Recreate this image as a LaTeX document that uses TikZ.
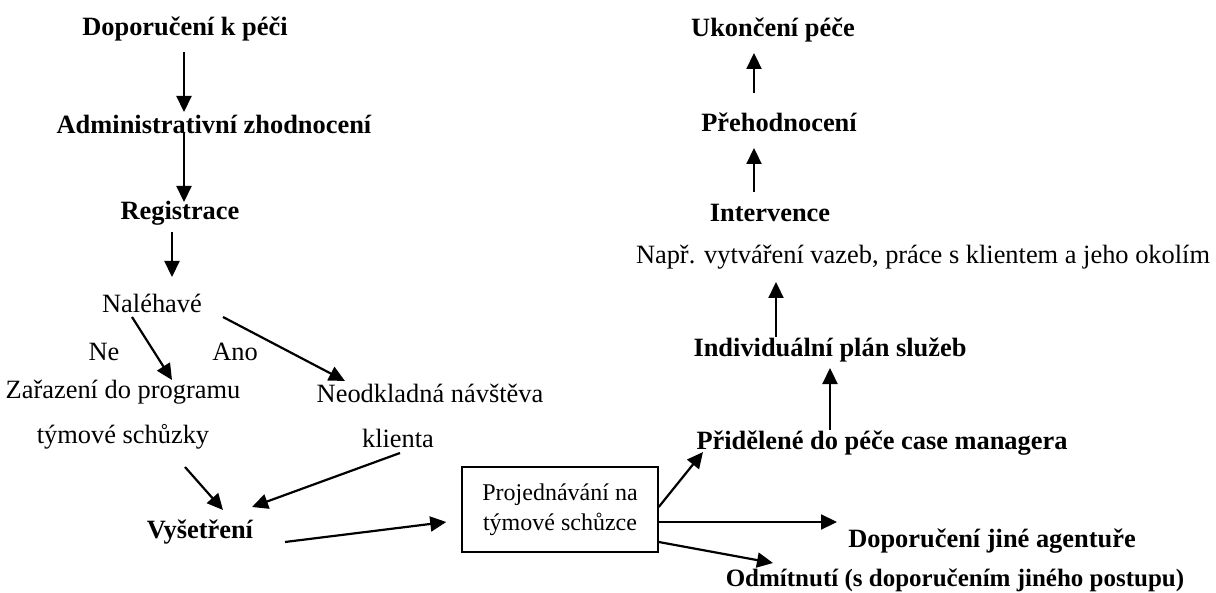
\documentclass[tikz,border=0pt]{standalone}
\usepackage{fontspec}
\setmainfont{Liberation Serif}
\usetikzlibrary{shapes}
\usetikzlibrary{arrows.meta}
\usetikzlibrary{calc,positioning}

\begin{document}
\begin{tikzpicture}[x=0.5pt, y=-0.5pt, krok/.style = {font=\fontsize{13.2}{16}\selectfont\bfseries, inner sep=0}, pozn/.style = {font=\fontsize{13.2}{22.5}\selectfont, align=center, inner sep=0}, ramec/.style = {draw, line width=0.75pt, align=center, font=\fontsize{12}{15}\selectfont, minimum width=98pt, minimum height=42.5pt}, sip/.style = {-{Triangle[length=8pt, width=7.5pt]}, line width=1.1pt}]

\useasboundingbox (0,0) rectangle (1216,593);

\node[krok](dop) at (185,29) {Doporučení k péči};
\node[krok](adm) at (214,124) {Administrativní zhodnocení};
\node[krok](reg) at (180,213) {Registrace};
\node[pozn](nal) at (152,303) {Naléhavé};
\node[pozn](ne) at (104,352) {Ne};
\node[pozn](ano) at (235,352) {Ano};
\node[pozn](zar) at (123,415) {Zařazení do programu\\týmové schůzky};
\node[pozn](neo) at (430,393) {Neodkladná návštěva};
\node[pozn](kli) at (398,438) {klienta};
\node[krok](vys) at (200,532) {Vyšetření};
\node[ramec](box) at (560,509.5) {Projednávání na\\týmové schůzce};

\node[krok](prid) at (882,443) {Přidělené do péče case managera};
\node[krok](dopj) at (992,541) {Doporučení jiné agentuře};
\node[krok, font=\fontsize{12.5}{15}\selectfont\bfseries](odm) at (955,580) {Odmítnutí (s doporučením jiného postupu)};
\node[krok](indiv) at (830,350) {Individuální plán služeb};
\node[pozn](napr) at (923,257) {Např. vytváření vazeb, práce s klientem a jeho okolím};
\node[krok](interv) at (770,213) {Intervence};
\node[krok](preh) at (779,122) {Přehodnocení};
\node[krok](ukon) at (773,30) {Ukončení péče};

\draw [sip] ($(dop)+(-1,23)$) to ($(adm)+(-30,-12)$);
\draw [sip] ($(adm)+(-30,9)$) to ($(reg)+(4,-11)$);
\draw [sip] ($(reg)+(-8,19)$) to ($(nal)+(20,-26)$);
\draw [sip] ($(nal)+(-20,14)$) to ($(zar)+(49,-35)$);
\draw [sip] ($(nal)+(71,14)$) to ($(neo)+(-85,-12)$);
\draw [sip] ($(zar)+(62,52)$) to ($(vys)+(23,-22)$);
\draw [sip] ($(kli)+(2,15)$) to ($(vys)+(52,-25)$);
\draw [sip] ($(vys)+(85,10)$) to ($(box.west)+(-15,12.5)$);
\draw [sip] ($(box.east)+(0,-2.5)$) to ($(prid)+(-179,9)$);
\draw [sip] ($(box.east)+(0,12.5)$) to ($(dopj)+(-155,-19)$);
\draw [sip] ($(box.east)+(0,32.5)$) to ($(odm)+(-182,-17)$);
\draw [sip] ($(prid)+(-52,-13)$) to ($(indiv)+(0,18)$);
\draw [sip] ($(indiv)+(-54,-13)$) to ($(napr)+(-147,25)$);
\draw [sip] ($(interv)+(-16,-21)$) to ($(preh)+(-25,26)$);
\draw [sip] ($(preh)+(-25,-29)$) to ($(ukon)+(-19,23)$);

\end{tikzpicture}
\end{document}
